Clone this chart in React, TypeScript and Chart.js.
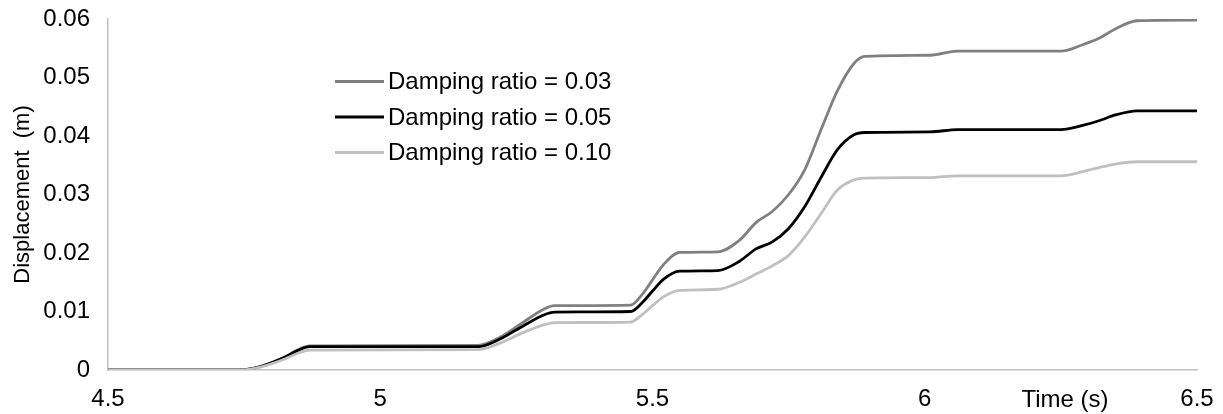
import React, { useEffect, useRef } from "react";
import { Chart, registerables } from "chart.js";

Chart.register(...registerables);

const times = [4.5, 4.74, 4.78, 4.82, 4.85, 4.87, 5.18, 5.22, 5.26, 5.3, 5.32, 5.46, 5.48, 5.5, 5.52, 5.55, 5.62, 5.66, 5.69, 5.72, 5.75, 5.78, 5.81, 5.84, 5.87, 5.89, 6.01, 6.06, 6.25, 6.29, 6.32, 6.35, 6.39, 6.5];

const damping003 = [0, 0, 0.0006, 0.002, 0.0035, 0.0041, 0.0042, 0.0056, 0.008, 0.0104, 0.011, 0.0111, 0.0128, 0.0154, 0.018, 0.0201, 0.0202, 0.0222, 0.0252, 0.0271, 0.03, 0.0343, 0.0412, 0.0478, 0.0524, 0.0536, 0.0538, 0.0545, 0.0545, 0.0556, 0.0567, 0.0583, 0.0597, 0.0598];

const damping005 = [0, 0, 0.0006, 0.002, 0.0034, 0.004, 0.004, 0.0053, 0.0074, 0.0094, 0.0099, 0.01, 0.0114, 0.0135, 0.0155, 0.0169, 0.017, 0.0186, 0.0207, 0.0219, 0.0242, 0.028, 0.033, 0.0377, 0.0402, 0.0406, 0.0407, 0.0411, 0.0411, 0.0418, 0.0426, 0.0436, 0.0443, 0.0443];

const damping010 = [0, 0, 0.0005, 0.0017, 0.0029, 0.0034, 0.0035, 0.0046, 0.0063, 0.0077, 0.0081, 0.0082, 0.0094, 0.011, 0.0125, 0.0136, 0.0138, 0.015, 0.0164, 0.0178, 0.0196, 0.0228, 0.0268, 0.0308, 0.0325, 0.0328, 0.0329, 0.0332, 0.0332, 0.0339, 0.0346, 0.0352, 0.0356, 0.0356];

const seriesLabels = ["Damping ratio = 0.03", "Damping ratio = 0.05", "Damping ratio = 0.10"];
const seriesColors = ["#808080", "#000000", "#c0c0c0"];
const xTickLabels = ["4.5", "5", "5.5", "6", "6.5"];
const yTickLabels = ["0", "0.01", "0.02", "0.03", "0.04", "0.05", "0.06"];
const xTitle = "Time (s)";
const yTitle = "Displacement  (m)";

const FONT = "'Liberation Sans', Arial, sans-serif";
const FS = 24;

const overlayPlugin = {
  id: "overlay",
  afterDraw(chart: any) {
    const ctx = chart.ctx;
    ctx.save();
    ctx.font = `${FS}px ${FONT}`;
    ctx.fillStyle = "#000";
    ctx.textBaseline = "middle";
    // x-axis title
    ctx.textAlign = "center";
    ctx.fillText(xTitle, 1065, 400);
    // legend
    ctx.textAlign = "left";
    const rows = [81.5, 117, 152.5];
    chart.data.datasets.forEach((ds: any, i: number) => {
      const y = rows[i];
      ctx.strokeStyle = ds.borderColor;
      ctx.lineWidth = 3;
      ctx.beginPath();
      ctx.moveTo(335, y);
      ctx.lineTo(384, y);
      ctx.stroke();
      ctx.fillText(ds.label, 388, y + 1);
    });
    ctx.restore();
  },
};

export default function App() {
  const ref = useRef<HTMLCanvasElement | null>(null);
  useEffect(() => {
    document.body.style.margin = "0";
    const mk = (vals: number[]) => times.map((t, i) => ({ x: t, y: vals[i] }));
    const all = [damping003, damping005, damping010];
    const chart = new Chart(ref.current!, {
      type: "line",
      data: {
        datasets: all.map((vals, i) => ({
          label: seriesLabels[i],
          data: mk(vals),
          borderColor: seriesColors[i],
          backgroundColor: seriesColors[i],
          borderWidth: 2.8,
          pointRadius: 0,
          cubicInterpolationMode: "monotone" as const,
          fill: false,
          order: 2 - i,
        })),
      },
      options: {
        animation: false,
        responsive: false,
        layout: { padding: { top: 19, right: 26, left: 0, bottom: 0 } },
        plugins: { legend: { display: false }, tooltip: { enabled: false } },
        scales: {
          x: {
            type: "linear",
            min: 4.5,
            max: 6.5,
            grid: { display: false, drawTicks: false },
            border: { display: true, color: "#c0c0c0", width: 1.5 },
            ticks: {
              stepSize: 0.5,
              maxRotation: 0,
              padding: 15,
              color: "#000",
              font: { family: FONT, size: FS },
              callback: (_v: any, i: number) => xTickLabels[i],
            },
            afterFit: (s: any) => {
              s.height = 44;
              s.paddingLeft = 0;
              s.paddingRight = 0;
            },
          },
          y: {
            type: "linear",
            min: 0,
            max: 0.06,
            grid: { display: false, drawTicks: false },
            border: { display: true, color: "#c0c0c0", width: 1.5 },
            ticks: {
              stepSize: 0.01,
              padding: 18,
              color: "#000",
              font: { family: FONT, size: FS },
              callback: (_v: any, i: number) => yTickLabels[i],
            },
            title: {
              display: true,
              text: yTitle,
              color: "#000",
              font: { family: FONT, size: 22 },
              padding: { top: 10, bottom: 0 },
            },
            afterFit: (s: any) => {
              s.width = 108;
              s.paddingTop = 0;
              s.paddingBottom = 0;
            },
          },
        },
      },
      plugins: [overlayPlugin],
    });
    return () => chart.destroy();
  }, []);
  return <canvas ref={ref} width={1223} height={414} style={{ display: "block" }} />;
}
